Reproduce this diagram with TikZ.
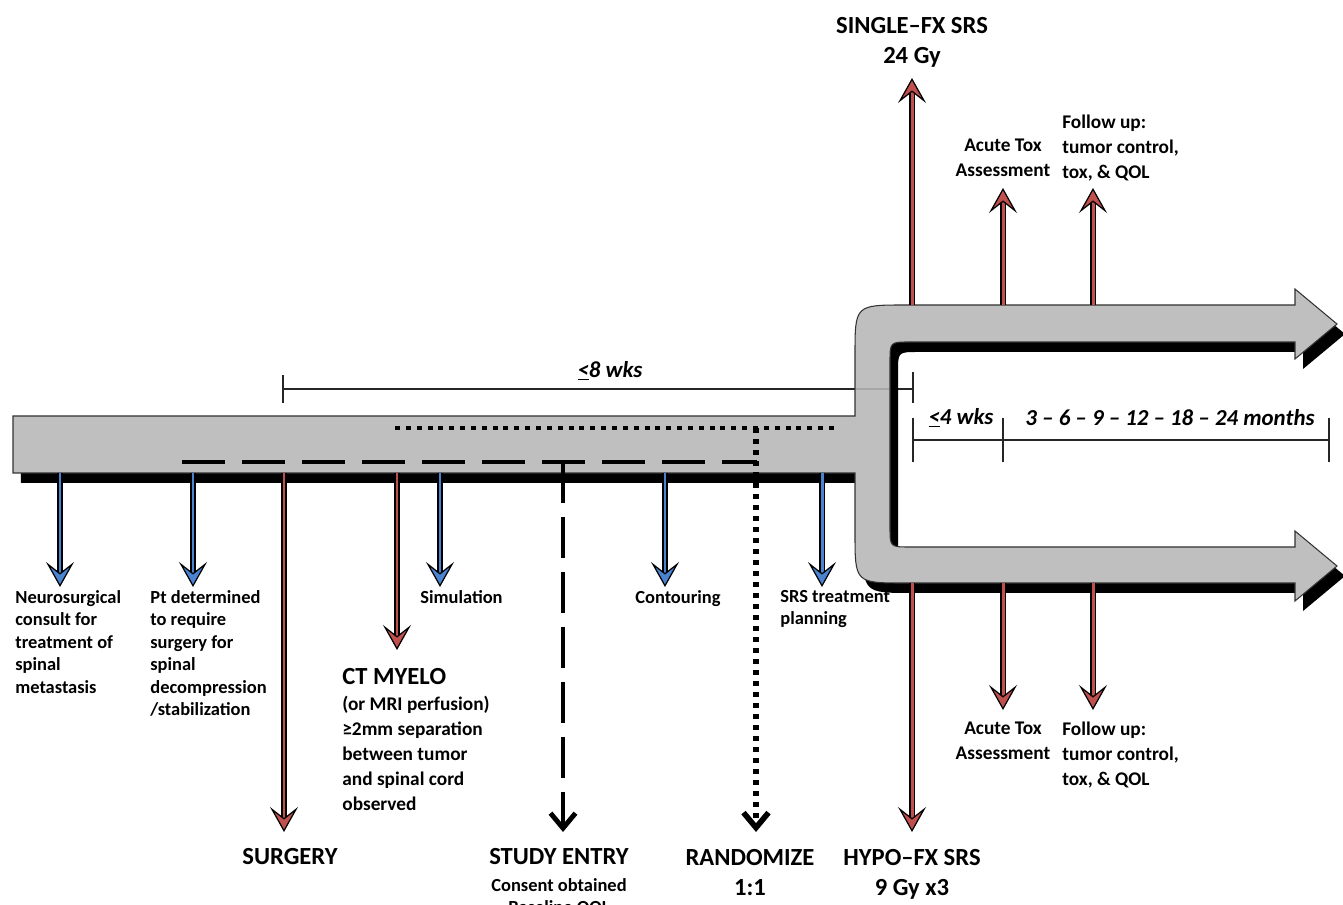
\documentclass[tikz,border=0pt]{standalone}
\usepackage{fontspec}
\setmainfont{Carlito}
\usetikzlibrary{arrows.meta,positioning,shadows}
\definecolor{barGray}{HTML}{BFBFBF}
\definecolor{evRed}{HTML}{C0504D}
\definecolor{evBlue}{HTML}{4A84D0}
% outlined event arrow: colour, start, end
\newcommand{\evarrow}[3]{%
  \draw[black,line width=3pt,shorten >=8pt] (#2) -- (#3);
  \draw[#1,line width=1.7pt,-{Stealth[length=0.5cm,width=0.56cm,inset=0.22cm,fill=#1,color=black,line width=0.7pt]}] (#2) -- (#3);}

\begin{document}
\begin{tikzpicture}[x=0.02cm, y=-0.02cm,
  smalltxt/.style={inner sep=0pt,align=left,font=\bfseries\fontsize{10.5}{12.8}\selectfont},
  midtxt/.style={inner sep=0pt,font=\bfseries\fontsize{11}{14.2}\selectfont},
  bigtxt/.style={inner sep=0pt,align=center,font=\bfseries\fontsize{14}{17}\selectfont},
  spantxt/.style={inner sep=0pt,font=\bfseries\itshape\fontsize{13}{15}\selectfont},
  spanline/.style={black!85,line width=1pt},
  bar/.style={fill=barGray,draw=black!80,line width=0.6pt,
    drop shadow={shadow xshift=0.16cm,shadow yshift=-0.2cm,opacity=1,fill=black}}]
\useasboundingbox (0,0) rectangle (1343,905);
% --- <= 8 wks span (runs under the bar) ---
\coordinate (w8a) at (283,389);
\coordinate (w8b) at (913,389);
\draw[spanline] (w8a) -- (w8b);
\draw[spanline] ([yshift=0.28cm]w8a) -- ([yshift=-0.28cm]w8a);
\draw[spanline] ([yshift=0.34cm]w8b) -- ([yshift=-0.28cm]w8b);
\node[spantxt] (wks8) at (610,371) {\underline{<}8 wks};
% --- timeline bar with fork ---
\path[bar] (13,416) -- (855,416) -- (855,355) .. controls (855,305) .. (905,305)
  -- (1295,305) -- (1295,289) -- (1337,324) -- (1295,359) -- (1295,342)
  -- (910,342) .. controls (890,342) .. (890,362) -- (890,527)
  .. controls (890,547) .. (910,547) -- (1295,547) -- (1295,531)
  -- (1337,566) -- (1295,601) -- (1295,583) -- (905,583)
  .. controls (855,583) .. (855,533) -- (855,473) -- (13,473) -- cycle;
\draw[black!35,line width=0.6pt] (856,389) -- (889,389);
% --- study window lines ---
\coordinate (dotA) at (395,428);
\coordinate (dotB) at (835,428);
\coordinate (dashA) at (182,462);
\coordinate (dashB) at (757,462);
\draw[black,line width=2.8pt,dash pattern=on 0.1cm off 0.117cm] (dotA) -- (dotB);
\draw[black,line width=2.8pt,dash pattern=on 0.86cm off 0.34cm] (dashA) -- (dashB);
% --- entry and randomisation ---
\coordinate (studyS) at (563,462);
\coordinate (studyE) at (563,832);
\coordinate (randS) at (756,428);
\coordinate (randE) at (756,832);
\draw[black,line width=2.8pt,dash pattern=on 0.82cm off 0.28cm,
  -{Straight Barb[length=0.3cm,width=0.5cm]}] (studyS) -- (studyE);
\draw[black,line width=3.2pt,dash pattern=on 0.11cm off 0.11cm,
  -{Straight Barb[length=0.3cm,width=0.5cm]}] (randS) -- (randE);
% --- blue events ---
\foreach \nm/\x in {neuro/60,ptdet/193,sim/440,cont/665,plan/822}{
  \coordinate (\nm S) at (\x,473);
  \coordinate (\nm E) at (\x,587);
  \evarrow{evBlue}{\nm S}{\nm E}
}
% --- red events on the bar ---
\coordinate (surgS) at (284,473);
\coordinate (surgE) at (284,832);
\coordinate (myeloS) at (397,473);
\coordinate (myeloE) at (397,650);
\evarrow{evRed}{surgS}{surgE}
\evarrow{evRed}{myeloS}{myeloE}
% --- arms ---
\foreach \nm/\x/\ya/\yb in {single/912/305/78,acuteT/1003/305/188,followT/1093/305/188,
  hypo/912/583/832,acuteB/1003/583/710,followB/1093/583/710}{
  \coordinate (\nm S) at (\x,\ya);
  \coordinate (\nm E) at (\x,\yb);
  \evarrow{evRed}{\nm S}{\nm E}
}
% --- follow-up span ---
\coordinate (w4a) at (913,440);
\coordinate (w4b) at (1003,440);
\coordinate (w4c) at (1329,440);
\draw[spanline] (w4a) -- (w4c);
\foreach \c in {w4a,w4b,w4c}
  \draw[spanline] ([yshift=0.44cm]\c) -- ([yshift=-0.44cm]\c);
\node[spantxt] (wks4) at (961,418) {\underline{<}4 wks};
\node[spantxt] (months) at (1170,418) {3 -- 6 -- 9 -- 12 -- 18 -- 24 months};
% --- labels ---
\node[smalltxt,anchor=north west] (neuroLbl) at (15,590)
  {Neurosurgical\\consult for\\treatment of\\spinal\\metastasis};
\node[smalltxt,anchor=north west] (ptdetLbl) at (150,590)
  {Pt determined\\to require\\surgery for\\spinal\\decompression\\/stabilization};
\node[smalltxt,anchor=north west] (simLbl) at (420,590) {Simulation};
\node[smalltxt,anchor=north west] (contLbl) at (635,590) {Contouring};
\node[smalltxt,anchor=north west] (planLbl) at (780,590) {SRS treatment\\planning};
\node[bigtxt,anchor=north west] (myeloLbl) at (342,668) {CT MYELO};
\node[midtxt,align=left,anchor=north west] (myeloTxt) at (342,696)
  {(or MRI perfusion)\\≥2mm separation\\between tumor\\and spinal cord\\observed};
\node[bigtxt] (surgLbl) at (290,857) {SURGERY};
\node[bigtxt] (studyLbl) at (559,857) {STUDY ENTRY};
\node[smalltxt,align=center,anchor=north] (studyTxt) at (559,878) {Consent obtained\\Baseline QOL};
\node[bigtxt,anchor=north] (randLbl) at (750,849) {RANDOMIZE\\1:1};
\node[bigtxt,anchor=north] (hypoLbl) at (912,849) {HYPO--FX SRS\\9 Gy x3};
\node[bigtxt,anchor=north] (singleLbl) at (912,17) {SINGLE--FX SRS\\24 Gy};
\node[midtxt,align=center,anchor=north] (acuteTLbl) at (1003,139) {Acute Tox\\Assessment};
\node[midtxt,align=left,anchor=north west] (followTLbl) at (1062,115)
  {Follow up:\\tumor control,\\tox, \& QOL};
\node[midtxt,align=center,anchor=north] (acuteBLbl) at (1003,722) {Acute Tox\\Assessment};
\node[midtxt,align=left,anchor=north west] (followBLbl) at (1062,722)
  {Follow up:\\tumor control,\\tox, \& QOL};
\end{tikzpicture}
\end{document}
